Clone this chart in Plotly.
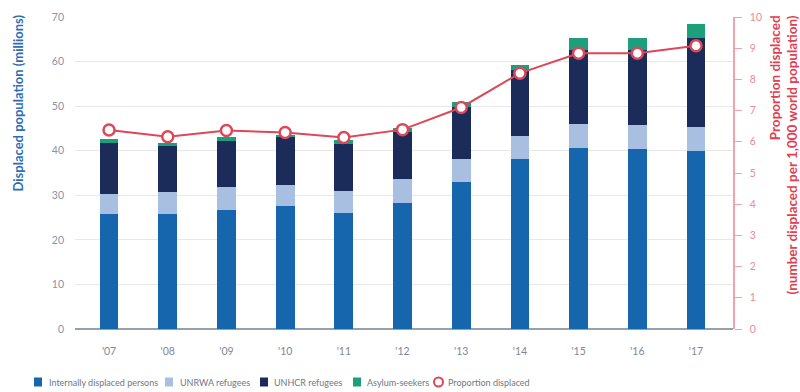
import plotly.graph_objects as go

# Displaced population by category (millions) and proportion displaced per 1,000
years = ["'07", "'08", "'09", "'10", "'11", "'12", "'13", "'14", "'15", "'16", "'17"]
idp = [25.7, 25.8, 26.8, 27.5, 26.0, 28.3, 33.0, 38.1, 40.6, 40.3, 39.9]
unrwa = [4.7, 5.0, 5.0, 4.8, 5.0, 5.3, 5.1, 5.2, 5.5, 5.5, 5.5]
unhcr = [11.4, 10.3, 10.4, 10.7, 10.6, 10.6, 11.7, 14.8, 16.6, 16.9, 19.8]
asylum = [0.75, 0.7, 0.9, 0.5, 0.7, 1.0, 1.2, 1.1, 2.5, 2.7, 3.2]
proportion = [6.38, 6.16, 6.36, 6.30, 6.14, 6.39, 7.10, 8.20, 8.84, 8.84, 9.08]

series_names = ["Internally displaced persons", "UNRWA refugees", "UNHCR refugees",
                "Asylum-seekers"]
series_colors = ["#1666ad", "#a8bfe2", "#1b2c5a", "#1d9f7b"]
line_color = "#de4758"
line_name = "Proportion displaced"

W, H = 800, 392
L, R, T, B = 75, 67, 17, 63
PW, PH = W - L - R, H - T - B


def px_x(px):
    return (px - L) / PW


def px_y(py):
    return (H - B - py) / PH


fig = go.Figure()
for name, vals, col in zip(series_names, [idp, unrwa, unhcr, asylum], series_colors):
    fig.add_trace(go.Bar(x=years, y=vals, name=name, marker=dict(color=col, line=dict(width=0)),
                         showlegend=False))

fig.add_trace(go.Scatter(
    x=years, y=proportion, name=line_name, yaxis="y2", mode="lines+markers",
    line=dict(color=line_color, width=2),
    marker=dict(size=11, color="white", line=dict(color=line_color, width=2.5)),
    showlegend=False))

font_family = "Lato, 'Open Sans', sans-serif"

fig.update_layout(
    width=W, height=H,
    margin=dict(l=L, r=R, t=T, b=B),
    paper_bgcolor="white", plot_bgcolor="white",
    barmode="stack", bargap=0.68,
    font=dict(family=font_family, color="#8a93a3", size=10),
    xaxis=dict(type="category", range=[-0.58, 10.63], showgrid=False, showline=False,
               ticks="", tickfont=dict(size=10.5, color="#7f8796"), ticklabelstandoff=14),
    yaxis=dict(range=[0, 70], dtick=10, showgrid=True, gridcolor="#e8e8e8", gridwidth=1,
               zeroline=True, zerolinecolor="#9a9fa8", zerolinewidth=1.5,
               showline=False, ticks="", tickfont=dict(size=10.5, color="#8893a8"),
               ticklabelstandoff=10),
    yaxis2=dict(range=[0, 10], dtick=1, overlaying="y", side="right", showgrid=False,
                zeroline=False, showline=True, linecolor="#f0a3ac", linewidth=1.5,
                ticks="outside", ticklen=7, tickcolor="#f0a3ac", tickwidth=1,
                tickfont=dict(size=10.5, color="#ee8a95"), ticklabelstandoff=6),
)

annotations = [
    dict(text="<b>Displaced population (millions)</b>", textangle=-90,
         x=px_x(17), y=px_y(13), xanchor="center", yanchor="top",
         font=dict(size=13, color="#2e6db4", family=font_family)),
    dict(text="<b>Proportion displaced</b><br><b>(number displaced per 1,000 world population)</b>",
         textangle=-90, align="right",
         x=px_x(783), y=px_y(14), xanchor="center", yanchor="top",
         font=dict(size=13.5, color="#df3f52", family=font_family)),
]

# Legend row
shapes = []
legend_marks = [34, 165, 260, 353]
legend_text_x = [47, 178, 272, 365]
legend_y = 382
legend_font = dict(size=9, color="#6f7786", family=font_family)
for mx, tx, name, col in zip(legend_marks, legend_text_x, series_names, series_colors):
    shapes.append(dict(type="rect", xref="paper", yref="paper",
                       x0=px_x(mx), x1=px_x(mx + 8), y0=px_y(legend_y - 4.5),
                       y1=px_y(legend_y + 4.5),
                       fillcolor=col, line=dict(width=0)))
    annotations.append(dict(text=name, x=px_x(tx), y=px_y(legend_y), xanchor="left",
                            yanchor="middle", showarrow=False, font=legend_font))
shapes.append(dict(type="circle", xref="paper", yref="paper",
                   x0=px_x(434), x1=px_x(443), y0=px_y(legend_y - 4.5), y1=px_y(legend_y + 4.5),
                   fillcolor="white", line=dict(color=line_color, width=2)))
annotations.append(dict(text=line_name, x=px_x(446), y=px_y(legend_y), xanchor="left",
                        yanchor="middle", showarrow=False, font=legend_font))

for a in annotations:
    a.setdefault("xref", "paper")
    a.setdefault("yref", "paper")
    a.setdefault("showarrow", False)

fig.update_layout(annotations=annotations, shapes=shapes)

fig.write_html("out.html")
